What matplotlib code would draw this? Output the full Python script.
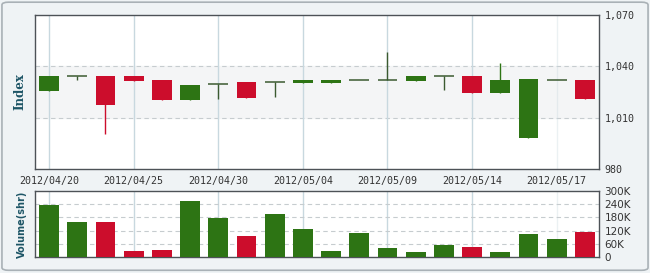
import matplotlib
matplotlib.use("Agg")
import matplotlib.pyplot as plt
from matplotlib.patches import FancyBboxPatch
import numpy as np

# Data
dates = ["2012/04/20", "2012/04/23", "2012/04/24", "2012/04/25", "2012/04/26",
         "2012/04/27", "2012/04/30", "2012/05/02", "2012/05/03", "2012/05/04",
         "2012/05/07", "2012/05/08", "2012/05/09", "2012/05/10", "2012/05/11",
         "2012/05/14", "2012/05/15", "2012/05/16", "2012/05/17", "2012/05/18"]

opens = [1025.8, 1034.2, 1034.4, 1034.4, 1032.0, 1020.3, 1029.5, 1030.8, 1030.8, 1030.5,
         1030.5, 1031.8, 1031.8, 1031.6, 1034.4, 1034.4, 1024.6, 998.0, 1031.8, 1032.0]
highs = [1034.4, 1034.2, 1034.4, 1034.4, 1032.0, 1029.1, 1029.5, 1030.8, 1030.8, 1032.0,
         1032.0, 1031.8, 1048.6, 1034.4, 1034.4, 1034.4, 1041.8, 1032.6, 1031.8, 1032.0]
lows = [1025.8, 1032.0, 1000.5, 1031.4, 1020.3, 1020.3, 1020.7, 1021.5, 1022.3, 1030.5,
        1030.5, 1031.8, 1031.8, 1031.6, 1026.2, 1024.6, 1024.6, 998.0, 1031.8, 1020.7]
closes = [1034.4, 1034.2, 1017.4, 1031.4, 1020.3, 1029.1, 1029.5, 1021.5, 1030.8, 1032.0,
          1032.0, 1031.8, 1031.8, 1034.4, 1034.4, 1024.6, 1032.0, 1032.6, 1031.8, 1020.7]
volumes = [235, 159, 159, 28, 33, 253, 177, 96, 195, 127,
           28, 109, 42, 24, 55, 46, 24, 105, 82, 114]  # thousands of shares

price_ticks = [980, 1010, 1040, 1070]
price_labels = ["980", "1,010", "1,040", "1,070"]
vol_ticks = [0, 60, 120, 180, 240, 300]
vol_labels = ["0", "60K", "120K", "180K", "240K", "300K"]

GREEN = "#2d7414"
RED = "#cc0d2c"
DOJI = "#3b5a30"
GRID = "#c8d8df"
SPINE = "#4d5257"
LABEL = "#1d5566"

x = np.arange(len(dates))
opens = np.array(opens)
closes = np.array(closes)
colors = [GREEN if c >= o else RED for o, c in zip(opens, closes)]
label_idx = list(range(0, len(dates), 3))

fig = plt.figure(figsize=(6.5, 2.73), dpi=100)
fig.patch.set_facecolor("#eff3f5")
fig.patches.append(FancyBboxPatch((0.003, 0.01), 0.994, 0.982, boxstyle="round,pad=0,rounding_size=0.01",
                                  transform=fig.transFigure, facecolor="none",
                                  edgecolor="#a9b1b6", linewidth=1.2))

ax = fig.add_axes([0.0538, 0.381, 0.8677, 0.564])
axv = fig.add_axes([0.0538, 0.0586, 0.8677, 0.2418])

mono = "DejaVu Sans Mono"

# Price panel
ax.set_facecolor("white")
ax.axhspan(1010, 1040, color="#f4f5f6", zorder=0)
for y in [1010, 1040]:
    ax.axhline(y, color="#c6cccf", linestyle=(0, (4, 3)), linewidth=0.8, zorder=1)
for i in label_idx:
    a = 0.35 if i == 18 else 1.0
    ax.axvline(i, color=GRID, linewidth=1, alpha=a, zorder=1)
    axv.axvline(i, color=GRID, linewidth=1, alpha=a, zorder=1)

for i in x:
    o, c = opens[i], closes[i]
    col = colors[i]
    if abs(c - o) < 0.05:
        ax.vlines(i, lows[i], highs[i], color=DOJI, linewidth=1, zorder=2)
        ax.hlines(o, i - 0.35, i + 0.35, color=DOJI, linewidth=1.1, zorder=3)
    else:
        ax.vlines(i, lows[i], highs[i], color=col, linewidth=1, zorder=2)
        ax.bar(i, abs(c - o), bottom=min(o, c), width=0.7, color=col, zorder=3)

ax.set_xlim(-0.5, len(dates) - 0.5)
ax.set_ylim(980, 1070)
ax.yaxis.tick_right()
ax.set_yticks(price_ticks)
ax.set_yticklabels(price_labels, fontfamily=mono, fontsize=7.2, color="#333333")
ax.set_xticks(label_idx)
ax.set_xticklabels([dates[i] for i in label_idx], fontfamily=mono, fontsize=7.2, color="#333333")
ax.tick_params(length=0, pad=4)
ax.tick_params(axis="x", pad=5)
ax.set_ylabel("Index", fontsize=8.5, fontweight="bold", family="DejaVu Serif", color=LABEL, labelpad=6)
for s in ax.spines.values():
    s.set_color(SPINE)
    s.set_linewidth(1)

# Volume panel
axv.set_facecolor("white")
for v in vol_ticks[1:-1]:
    axv.axhline(v, color="#c6cccf", linestyle=(0, (4, 3)), linewidth=0.8, zorder=1)
axv.bar(x, volumes, width=0.7, color=colors, zorder=3)
axv.set_xlim(-0.5, len(dates) - 0.5)
axv.set_ylim(0, 300)
axv.yaxis.tick_right()
axv.set_yticks(vol_ticks)
axv.set_yticklabels(vol_labels, fontfamily="DejaVu Sans", fontsize=7.5, color="#333333")
axv.set_xticks([])
axv.tick_params(length=0, pad=4)
axv.set_ylabel("Volume(shr)", fontsize=7, fontweight="bold", color=LABEL, labelpad=6)
for s in axv.spines.values():
    s.set_color(SPINE)
    s.set_linewidth(1)

fig.savefig("out.png", dpi=100, facecolor=fig.get_facecolor())
